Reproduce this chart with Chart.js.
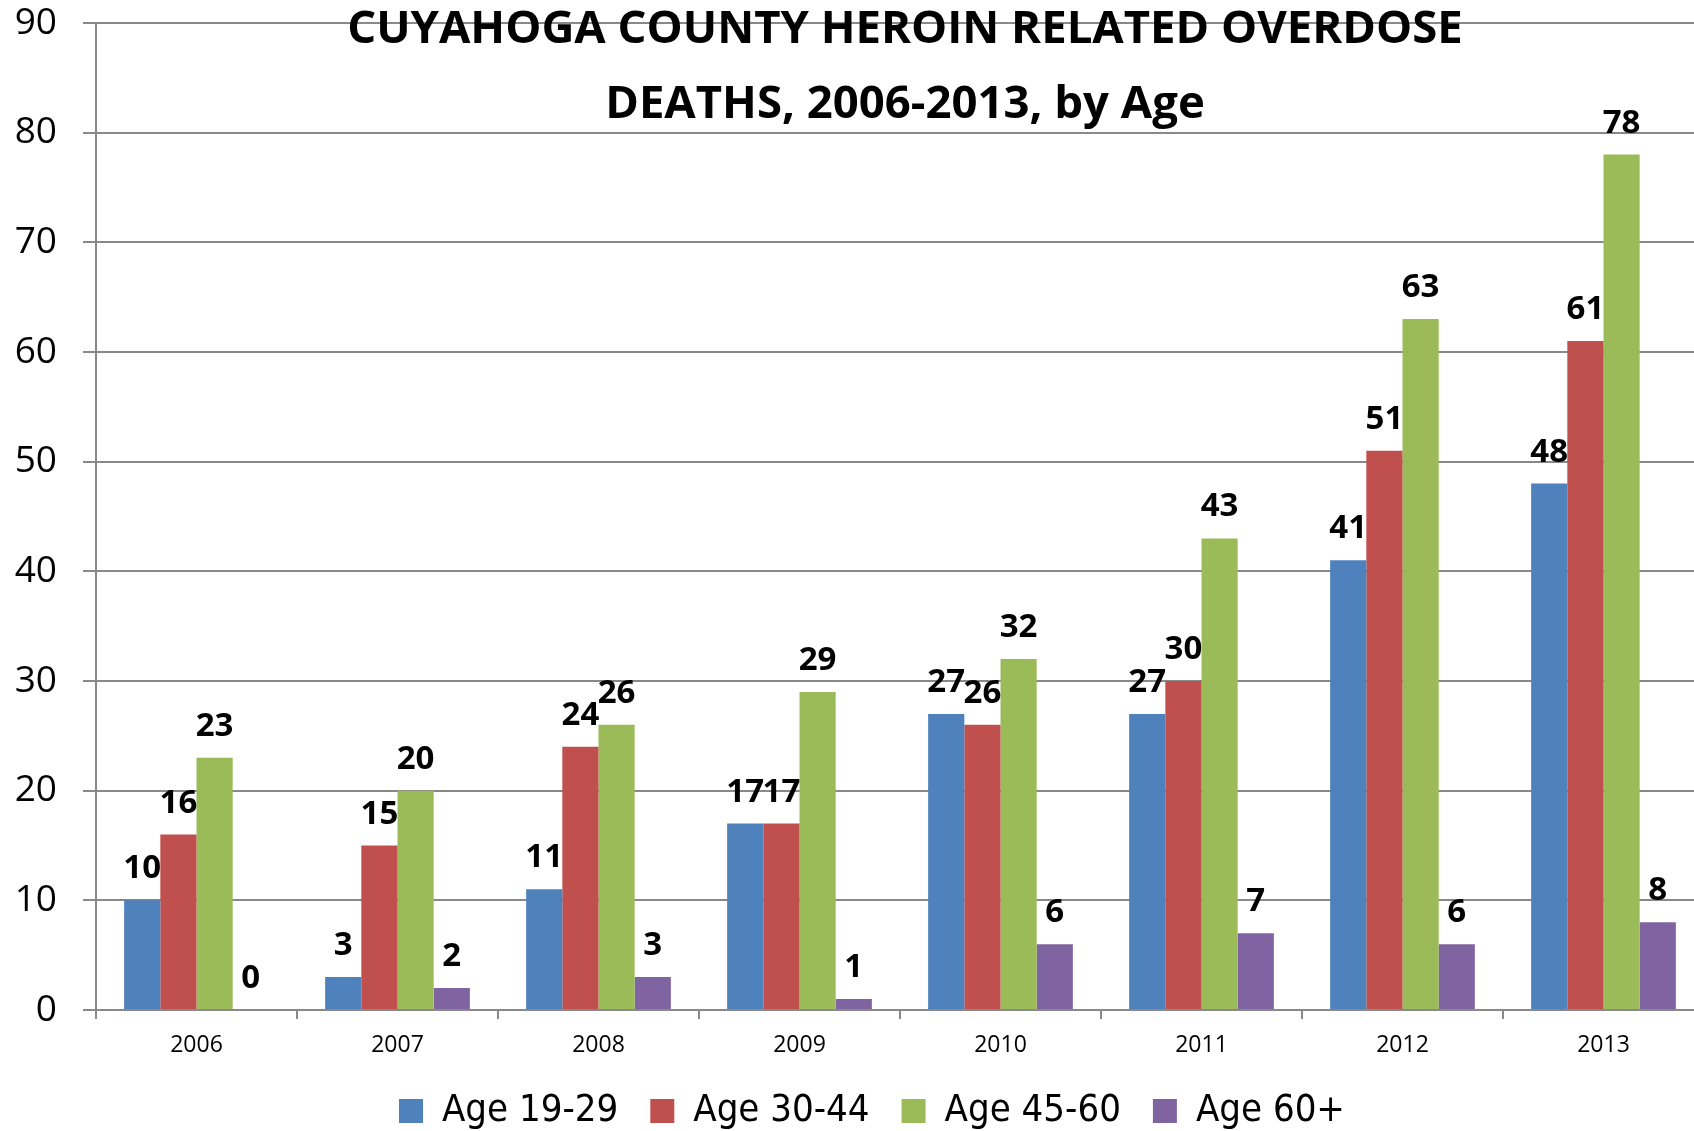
<!DOCTYPE html>
<html>
<head>
<meta charset="utf-8">
<title>Cuyahoga County heroin related overdose deaths</title>
<script src="https://cdn.jsdelivr.net/npm/chart.js@4/dist/chart.umd.min.js"></script>
<style>
    html, body { margin: 0; padding: 0; background: #fff; overflow: hidden; }
    canvas { display: block; }
</style>
</head>
<body>
<!-- canvas a bit bigger than the window: the plot runs past the right edge like the original -->
<canvas id="chart" width="1704" height="1140"></canvas>
<script>
// Data
const years = ['2006', '2007', '2008', '2009', '2010', '2011', '2012', '2013'];
const age19to29 = [10, 3, 11, 17, 27, 27, 41, 48];
const age30to44 = [16, 15, 24, 17, 26, 30, 51, 61];
const age45to60 = [23, 20, 26, 29, 32, 43, 63, 78];
const age60plus = [0, 2, 3, 1, 6, 7, 6, 8];
const titleLines = ['CUYAHOGA COUNTY HEROIN RELATED OVERDOSE', 'DEATHS, 2006-2013, by Age'];

const GRID = '#898989';
const BASE_FONT = "'Open Sans', 'Liberation Sans', sans-serif";

// value above each bar
const barLabels = {
    id: 'barLabels',
    afterDatasetsDraw(chart) {
        const ctx = chart.ctx;
        ctx.save();
        ctx.font = 'bold 33px ' + BASE_FONT;
        ctx.fillStyle = '#000';
        ctx.textAlign = 'center';
        ctx.textBaseline = 'alphabetic';
        chart.data.datasets.forEach((ds, i) => {
            chart.getDatasetMeta(i).data.forEach((bar, j) => {
                ctx.fillText(String(ds.data[j]), bar.x, bar.y - 22);
            });
        });
        ctx.restore();
    }
};

// the title sits inside the plot area, over the top gridline
const overlayTitle = {
    id: 'overlayTitle',
    afterDraw(chart) {
        const ctx = chart.ctx;
        ctx.save();
        ctx.font = 'bold 45.5px ' + BASE_FONT;
        ctx.fillStyle = '#000';
        ctx.textAlign = 'center';
        ctx.textBaseline = 'middle';
        ctx.fillText(titleLines[0], 905, 30);
        ctx.fillText(titleLines[1], 905, 105);
        ctx.restore();
    }
};

// legend in the original is a bit right of the canvas centre
const legendShift = {
    id: 'legendShift',
    afterLayout(chart) {
        if (chart.legend) chart.legend.left += 40;
    }
};

new Chart(document.getElementById('chart'), {
    type: 'bar',
    data: {
        labels: years,
        datasets: [
            { label: 'Age 19-29', data: age19to29, backgroundColor: '#4F81BD' },
            { label: 'Age 30-44', data: age30to44, backgroundColor: '#C0504D' },
            { label: 'Age 45-60', data: age45to60, backgroundColor: '#9BBB59' },
            { label: 'Age 60+', data: age60plus, backgroundColor: '#8064A2' },
        ],
    },
    options: {
        responsive: false,
        animation: false,
        devicePixelRatio: 1,
        layout: { padding: { top: 23, left: 0, right: 0, bottom: 0 } },
        datasets: {
            bar: { categoryPercentage: 0.72, barPercentage: 1.0 },
        },
        plugins: {
            tooltip: { enabled: false },
            title: { display: false },
            legend: {
                position: 'bottom',
                labels: {
                    color: '#000',
                    font: { family: "'Liberation Sans Narrow', 'DejaVu Sans Condensed', sans-serif", size: 38 },
                    boxWidth: 24,
                    boxHeight: 24,
                    padding: 32,
                },
            },
        },
        scales: {
            x: {
                grid: { drawOnChartArea: false, color: GRID, lineWidth: 2, tickLength: 9 },
                border: { color: GRID, width: 2 },
                ticks: { color: '#000', font: { family: BASE_FONT, size: 23 }, padding: 13, maxRotation: 0 },
                afterFit(scale) { scale.height = 50; },
            },
            y: {
                min: 0,
                max: 90,
                ticks: { stepSize: 10, color: '#000', font: { family: BASE_FONT, size: 37 }, padding: 26 },
                grid: { color: GRID, lineWidth: 2, tickLength: 13 },
                border: { color: GRID, width: 2 },
                afterFit(scale) {
                    scale.width = 96;
                    // tick padding would otherwise push the plot down
                    scale.paddingTop = 0;
                    scale.paddingBottom = 0;
                },
            },
        },
    },
    plugins: [barLabels, overlayTitle, legendShift],
});
</script>
</body>
</html>
